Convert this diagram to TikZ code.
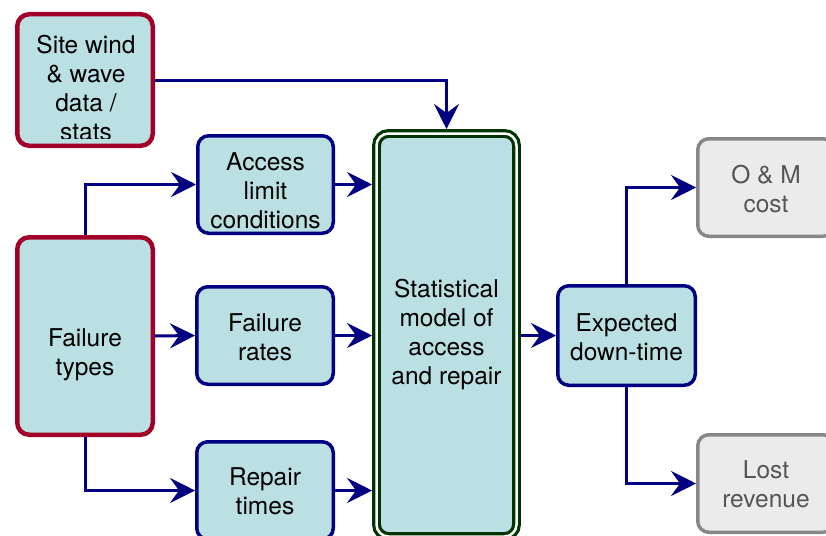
\documentclass[tikz,border=0pt]{standalone}
\usepackage{fontspec}
\setmainfont{TeX Gyre Heros}
\usetikzlibrary{arrows.meta}
\definecolor{boxfill}{RGB}{187,224,227}
\definecolor{redline}{RGB}{163,0,40}
\definecolor{navy}{RGB}{0,0,128}
\definecolor{dgreen}{RGB}{0,52,0}
\definecolor{grayfill}{RGB}{235,235,235}
\definecolor{grayline}{RGB}{136,136,136}
\definecolor{graytext}{RGB}{85,85,85}
\begin{document}
\begin{tikzpicture}[x=1pt,y=-1pt,
  redbox/.style={draw=redline,line width=4.5pt,fill=boxfill,rounded corners=12pt,minimum width=135.5pt,inner sep=0pt},
  bluebox/.style={draw=navy,line width=3.5pt,fill=boxfill,rounded corners=11pt,inner sep=0pt},
  graybox/.style={draw=grayline,line width=3.5pt,fill=grayfill,rounded corners=11pt,inner sep=0pt},
  statbox/.style={draw=dgreen,double=white,double distance=2.5pt,line width=3.2pt,fill=boxfill,rounded corners=12pt,inner sep=0pt,outer sep=4.5pt},
  txt/.style={align=center,inner sep=0pt,font=\fontsize{24.5}{29}\selectfont},
  conn/.style={draw=navy,line width=3pt,-{Stealth[length=25pt,width=25pt,inset=9pt]}}
]
\clip (0,0) rectangle (826,535);
\useasboundingbox (0,0) rectangle (826,535);
% boxes
\node[redbox,minimum height=131.5pt] (site) at (85,80) {};
\node[redbox,minimum height=197.5pt] (ftypes) at (85,336) {};
\node[bluebox,minimum width=135.5pt,minimum height=97.5pt] (access) at (265.5,184.5) {};
\node[bluebox,minimum width=136.5pt,minimum height=97.5pt] (rates) at (265,335.5) {};
\node[bluebox,minimum width=136.5pt,minimum height=97.5pt] (repair) at (265,490.5) {};
\node[statbox,minimum width=140pt,minimum height=403pt] (stat) at (446.5,335) {};
\node[bluebox,minimum width=137.5pt,minimum height=99.5pt] (exp) at (626.5,335.5) {};
\node[graybox,minimum width=136.5pt,minimum height=97.5pt] (om) at (766,187.5) {};
\node[graybox,minimum width=136.5pt,minimum height=97.5pt] (lost) at (766,483.5) {};
% texts
\begin{scope}
\clip (19,16) rectangle (151,138);
\node[txt] (siteT) at (86,87.75) {Site wind\\\& wave\\data /\\stats};
\end{scope}
\node[txt] (ftypesT) at (85,354.75) {Failure\\types};
\node[txt] (accessT) at (265.5,191.25) {Access\\limit\\conditions};
\node[txt] (ratesT) at (265,337.25) {Failure\\rates};
\node[txt] (repairT) at (265,490.75) {Repair\\times};
\node[txt] (statT) at (446.5,334.25) {Statistical\\model of\\access\\and repair};
\node[txt] (expT) at (626.5,337.25) {Expected\\down-time};
\node[txt,text=graytext] (omT) at (766,188.75) {O \& M\\cost};
\node[txt,text=graytext] (lostT) at (766,483.75) {Lost\\revenue};
% connectors
\draw[conn] (site.east) -| (stat.north);
\draw[conn] (ftypes.north) |- (access.west);
\draw[conn] (ftypes.east) -- (rates.west);
\draw[conn] (ftypes.south) |- (repair.west);
\draw[conn] (access.east) -- (access.east -| stat.west);
\draw[conn] (rates.east) -- (rates.east -| stat.west);
\draw[conn] (repair.east) -- (repair.east -| stat.west);
\draw[conn] (stat.east |- exp.west) -- (exp.west);
\draw[conn] (exp.north) |- (om.west);
\draw[conn] (exp.south) |- (lost.west);
\end{tikzpicture}
\end{document}
